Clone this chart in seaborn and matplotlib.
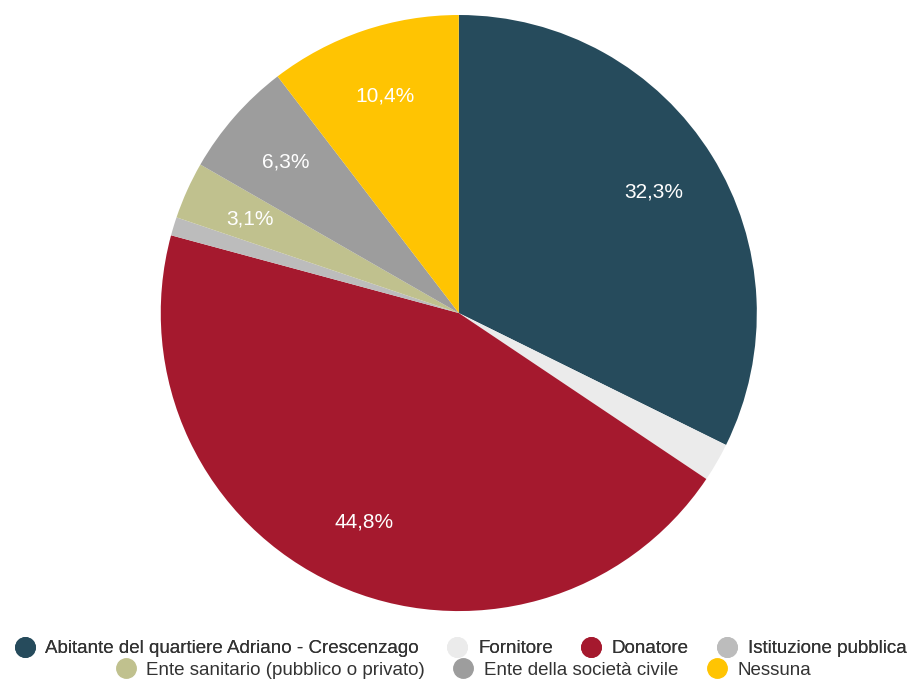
import matplotlib
matplotlib.use("Agg")
import matplotlib.pyplot as plt
from matplotlib.lines import Line2D
import seaborn as sns

categories = [
    "Abitante del quartiere Adriano - Crescenzago",
    "Fornitore",
    "Donatore",
    "Istituzione pubblica",
    "Ente sanitario (pubblico o privato)",
    "Ente della società civile",
    "Nessuna",
]
shares = [32.3, 2.1, 44.8, 1.0, 3.1, 6.3, 10.4]
colors = ["#264b5c", "#ebebeb", "#a5192e", "#bcbcbc", "#c0c18e", "#9d9d9d", "#ffc402"]

sns.set_theme(style="white")
plt.rcParams["font.family"] = ["Liberation Sans", "DejaVu Sans"]
palette = sns.color_palette(colors)

fig = plt.figure(figsize=(9.13, 6.82), dpi=100)
ax = fig.add_axes([0.176, 0.104, 0.653, 0.874])


def fmt(p):
    return f"{p:.1f}%".replace(".", ",") if p >= 3 else ""


wedges, texts, autotexts = ax.pie(
    shares,
    colors=palette,
    startangle=90,
    counterclock=False,
    autopct=fmt,
    pctdistance=0.77,
    wedgeprops=dict(linewidth=0),
    textprops=dict(color="white", fontsize=15),
)
ax.set_xlim(-1, 1)
ax.set_ylim(-1, 1)
ax.set_aspect("equal")


def handle(c):
    return Line2D([], [], marker="o", linestyle="none", markersize=14,
                  markerfacecolor=c, markeredgecolor=c)


legend_kw = dict(loc="center", frameon=False, fontsize=13.5, handlelength=1.0,
                 handletextpad=0.6, columnspacing=1.55, borderpad=0,
                 labelcolor="#333333")
row1 = range(0, 4)
row2 = range(4, 7)
leg1 = fig.legend([handle(palette[i]) for i in row1], [categories[i] for i in row1],
                  bbox_to_anchor=(0.505, 0.049), ncol=4, **legend_kw)
fig.add_artist(leg1)
fig.legend([handle(palette[i]) for i in row2], [categories[i] for i in row2],
           bbox_to_anchor=(0.508, 0.017), ncol=3, **legend_kw)

fig.savefig("out.png", dpi=100)
